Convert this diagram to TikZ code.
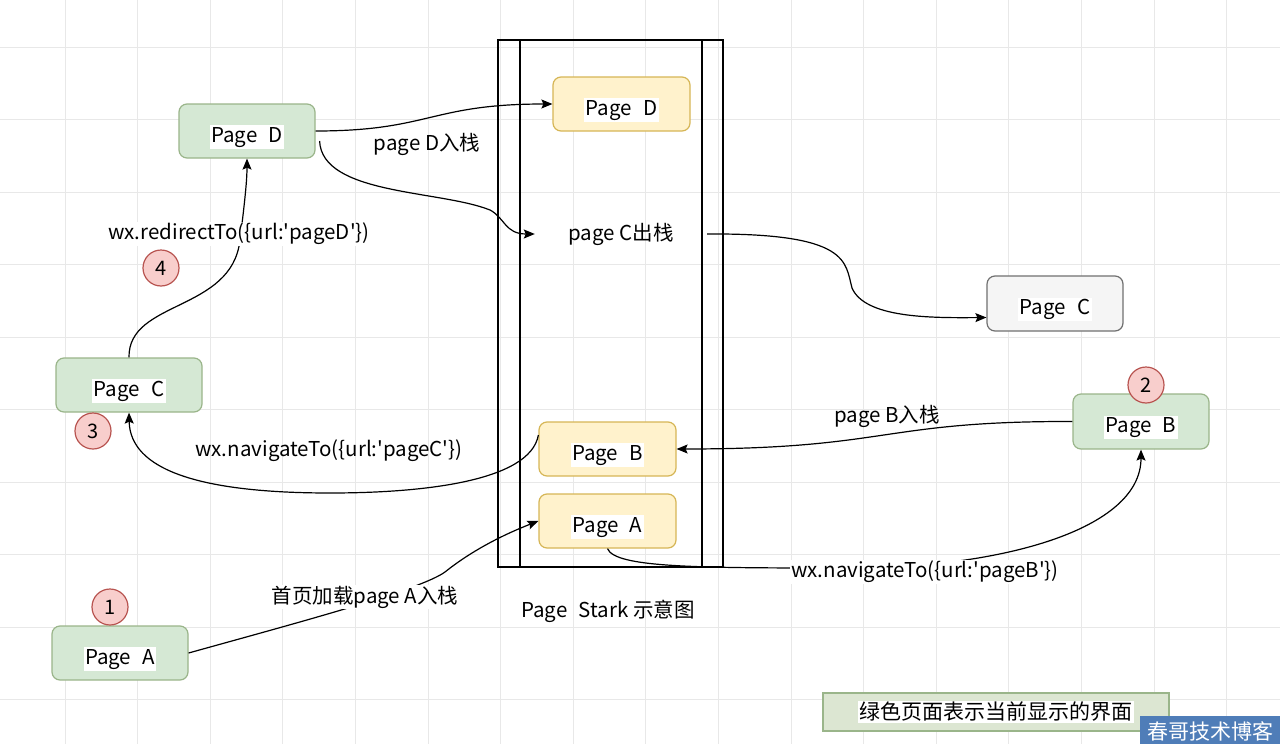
\documentclass[tikz,border=0pt]{standalone}
\usepackage{fontspec}
\newfontfamily\mf{Noto Sans CJK SC}
\usetikzlibrary{arrows.meta,calc}
\definecolor{gfill}{HTML}{D5E8D4}
\definecolor{gdraw}{HTML}{9AB58A}
\definecolor{yfill}{HTML}{FFF2CC}
\definecolor{ydraw}{HTML}{D6B656}
\definecolor{cfill}{HTML}{F5F5F5}
\definecolor{cdraw}{HTML}{707070}
\definecolor{rfill}{HTML}{F8CECC}
\definecolor{rdraw}{HTML}{B85450}
\definecolor{gridc}{HTML}{E8E8E8}
\definecolor{wmblue}{HTML}{4F7DB8}
\definecolor{lfill}{HTML}{DCE6D2}
\newcommand\wbg[1]{{\setlength{\fboxsep}{1.5pt}\colorbox{white}{#1}}}
\newcommand\pg[1]{\raisebox{-11pt}[0pt][0pt]{\wbg{Page\hspace{0.55em}#1}}}
\tikzset{
  box/.style={rounded corners=8pt, minimum width=136pt, minimum height=54pt, line width=1.2pt, inner sep=0pt, font=\mf\fontsize{20.5}{24}\selectfont},
  gbox/.style={box, fill=gfill, draw=gdraw},
  ybox/.style={box, fill=yfill, draw=ydraw},
  cbox/.style={box, fill=cfill, draw=cdraw},
  num/.style={circle, minimum size=36pt, inner sep=0pt, fill=rfill, draw=rdraw, line width=1.2pt, font=\mf\fontsize{20}{22}\selectfont},
  elabel/.style={font=\mf\fontsize{20.5}{24}\selectfont, inner sep=1pt, fill=white},
  conn/.style={line width=1.2pt, -{Stealth[length=11pt,width=9pt,inset=2pt]}},
  gline/.style={gridc, line width=0.8pt}
}
\begin{document}
\begin{tikzpicture}[x=1pt,y=-1pt]
\useasboundingbox (0,0) rectangle (1280,744);
\fill[white] (0,0) rectangle (1280,744);
\foreach \i in {0,...,16} \draw[gline] ({65+72.6*\i},0) -- ({65+72.6*\i},744);
\foreach \j in {0,...,9} \draw[gline] (0,{47+72.5*\j}) -- (1280,{47+72.5*\j});

% stack
\draw[line width=1.3pt] (498,40) rectangle (723,567);
\draw[line width=1.3pt] (520,40) -- (520,567);
\draw[line width=1.3pt] (702,40) -- (702,567);
\node[font=\mf\fontsize{20.5}{24}\selectfont] (stk) at (608,611) {Page\hspace{0.55em}Stark 示意图};

% stack nodes
\node[ybox, minimum width=137pt] (sD) at (621.5,104) {\pg{D}};
\node[ybox, minimum width=137pt] (sB) at (607.5,449) {\pg{B}};
\node[ybox, minimum width=137pt] (sA) at (607.5,521) {\pg{A}};
\node[font=\mf\fontsize{20.5}{24}\selectfont, minimum width=172pt, inner sep=0pt] (pcout) at (621,234) {page C出栈};

% outer nodes
\node[gbox] (pdL) at (247,131) {\pg{D}};
\node[gbox, minimum width=146pt] (pcL) at (129,385) {\pg{C}};
\node[gbox] (paL) at (120,653) {\pg{A}};
\node[cbox, minimum height=55pt] (pcR) at (1055,303.5) {\pg{C}};
\node[gbox, minimum height=55pt] (pbR) at (1141,421.5) {\pg{B}};

% numbers
\node[num] (n1) at (110,607) {1};
\node[num] (n2) at (1146,385) {2};
\node[num] (n3) at (93,431) {3};
\node[num] (n4) at (161,268) {4};

% connectors
\draw[conn] (pdL.east) .. controls (430,131) and (430,104) .. (sD.west);
\node[elabel, fill=none] (lD) at (427,144) {page D入栈};

\draw[conn] ([shift={(4,10)}]pdL.east) .. controls (322,195) and (440,190) .. (490,210) .. controls (505,218) and (505,234) .. (pcout.west);

\draw[conn] (pcout.east) .. controls (850,233) and (845,262) .. (852,288) .. controls (865,318) and (930,318) .. ([yshift=-14pt]pcR.west);

\draw[conn] (pbR.west) .. controls (880,421) and (890,449) .. (sB.east);
\node[elabel, fill=none] (lB) at (887,416) {page B入栈};

\draw[conn] (sA.south) .. controls (615,568) and (700,568) .. (850,568) .. controls (1000,568) and (1141,530) .. (pbR.south);
\node[elabel] (lnB) at (925,572) {wx.navigateTo(\{url:'pageB'\})};

\draw[conn] ([yshift=14pt]sB.west) .. controls (530,482) and (420,493) .. (330,493) .. controls (200,493) and (130,470) .. (pcL.south);
\node[elabel, fill=none] (lnC) at (329,451) {wx.navigateTo(\{url:'pageC'\})};

\draw[conn] (pcL.north) .. controls (128,300) and (232,312) .. (240,240) .. controls (245,200) and (247,180) .. (pdL.south);
\node[elabel] (lrD) at (239,234) {wx.redirectTo(\{url:'pageD'\})};

\draw[conn] (paL.east) .. controls (300,622) and (420,590) .. (445,572) .. controls (470,552) and (500,536) .. (sA.west);
\node[elabel] (lA) at (365,597) {首页加载page A入栈};

% legend
\node[draw=gdraw, fill=lfill, line width=1.2pt, minimum width=346pt, minimum height=38pt, inner sep=0pt, font=\mf\fontsize{21}{24}\selectfont] (leg) at (996,712) {\wbg{绿色页面表示当前显示的界面}};

% watermark
\fill[wmblue] (1140,716) rectangle (1280,744);
\node[text=white, font=\mf\fontsize{21}{22}\selectfont, inner sep=0pt] (wm) at (1210,731) {春哥技术博客};
\end{tikzpicture}
\end{document}
